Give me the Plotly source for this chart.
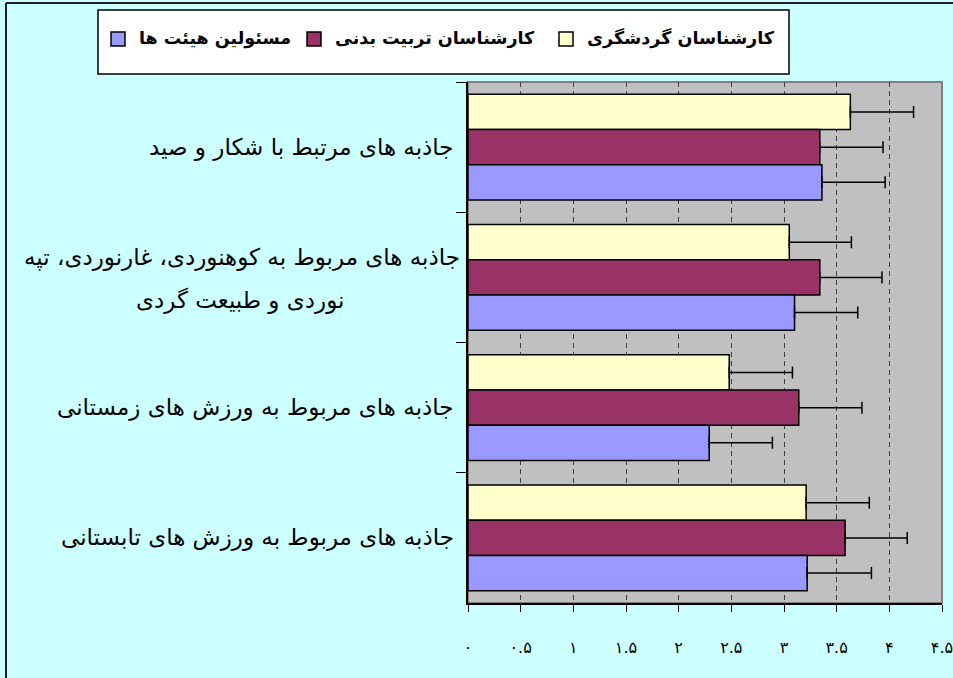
import plotly.graph_objects as go

# ---------------- data ----------------
categories = [
    "جاذبه های مرتبط با شکار و صید",
    "جاذبه های مربوط به کوهنوردی، غارنوردی، تپه<br>نوردی و طبیعت گردی",
    "جاذبه های مربوط به ورزش های زمستانی",
    "جاذبه های مربوط به ورزش های تابستانی",
]
tick_vals = [0, 0.5, 1, 1.5, 2, 2.5, 3, 3.5, 4, 4.5]
tick_text = ["۰", "۰.۵", "۱", "۱.۵", "۲", "۲.۵", "۳", "۳.۵", "۴", "۴.۵"]

series_names = ["کارشناسان گردشگری", "کارشناسان تربیت بدنی", "مسئولین هیئت ها"]
series_colors = ["#FFFFCC", "#993366", "#9999FF"]

tourism_experts = [3.63, 3.05, 2.48, 3.21]
tourism_errors = [0.60, 0.59, 0.60, 0.60]
pe_experts = [3.34, 3.34, 3.14, 3.58]
pe_errors = [0.60, 0.59, 0.60, 0.59]
board_officials = [3.36, 3.10, 2.29, 3.22]
board_errors = [0.60, 0.60, 0.60, 0.61]

series_values = [tourism_experts, pe_experts, board_officials]
series_errors = [tourism_errors, pe_errors, board_errors]

# ---------------- layout geometry (pixels) ----------------
W, H = 953, 678
PL, PR, PT, PB = 468, 942, 82, 603
FONT = "DejaVu Sans"


def px_x(px):
    return (px - PL) / (PR - PL)


def px_y(py):
    return (PB - py) / (PB - PT)


fig = go.Figure()
for name, color, vals, errs in zip(series_names, series_colors, series_values, series_errors):
    fig.add_trace(go.Bar(
        y=categories, x=vals, name=name, orientation="h",
        marker=dict(color=color, line=dict(color="black", width=1.5)),
        error_x=dict(type="data", symmetric=False, array=errs,
                     arrayminus=[0] * len(errs), color="black",
                     thickness=1.5, width=6),
        showlegend=False,
    ))

shapes = []
annotations = []

# outer chart frame (extends beyond the window on right/bottom)
shapes.append(dict(type="line", xref="paper", yref="paper",
                   x0=px_x(6), x1=px_x(W + 20), y0=px_y(3), y1=px_y(3),
                   line=dict(color="#222222", width=2)))
shapes.append(dict(type="line", xref="paper", yref="paper",
                   x0=px_x(6), x1=px_x(6), y0=px_y(3), y1=px_y(H + 20),
                   line=dict(color="#222222", width=2)))

# plot-area border
shapes.append(dict(type="rect", xref="paper", yref="paper", layer="below",
                   x0=0, x1=1, y0=0, y1=1,
                   line=dict(color="#808080", width=2)))

# legend box (manual, right-to-left ordering)
shapes.append(dict(type="rect", xref="paper", yref="paper",
                   x0=px_x(98), x1=px_x(789), y0=px_y(74), y1=px_y(10),
                   fillcolor="white", line=dict(color="black", width=1.5)))
legend_box_left = [111, 307, 559]
legend_order = [2, 1, 0]  # visual left-to-right: blue, maroon, yellow
for bx, idx in zip(legend_box_left, legend_order):
    shapes.append(dict(type="rect", xref="paper", yref="paper",
                       x0=px_x(bx), x1=px_x(bx + 14), y0=px_y(46), y1=px_y(32),
                       fillcolor=series_colors[idx],
                       line=dict(color="black", width=1.5)))
    annotations.append(dict(xref="paper", yref="paper",
                            x=px_x(bx + 26), y=px_y(38),
                            xanchor="left", yanchor="middle",
                            text=series_names[idx], showarrow=False,
                            font=dict(family=FONT, size=17.5, color="black",
                                      weight="bold")))

# category labels
LBL = 23
for cat in categories:
    lines = cat.split("<br>")
    if len(lines) == 1:
        annotations.append(dict(xref="paper", yref="y", x=px_x(456), y=cat,
                                xanchor="right", yanchor="middle",
                                text=cat, showarrow=False,
                                font=dict(family=FONT, size=LBL, color="black")))
    else:
        annotations.append(dict(xref="paper", yref="y", x=px_x(462), y=cat,
                                xanchor="right", yanchor="middle", yshift=20,
                                text=lines[0], showarrow=False,
                                font=dict(family=FONT, size=LBL, color="black")))
        annotations.append(dict(xref="paper", yref="y", x=px_x(240), y=cat,
                                xanchor="center", yanchor="middle", yshift=-23,
                                text=lines[1], showarrow=False,
                                font=dict(family=FONT, size=LBL, color="black")))

fig.update_layout(
    width=W, height=H,
    margin=dict(l=PL, r=W - PR, t=PT, b=H - PB, pad=0, autoexpand=False),
    paper_bgcolor="#CCFFFF",
    plot_bgcolor="#C0C0C0",
    barmode="group",
    bargap=0.19,
    bargroupgap=0,
    showlegend=False,
    shapes=shapes,
    annotations=annotations,
    font=dict(family=FONT, color="black"),
    xaxis=dict(
        range=[0, 4.5], tickvals=tick_vals, ticktext=tick_text,
        showgrid=True, gridcolor="#404040", gridwidth=1, griddash="5px,4px",
        zeroline=False, showline=True, linecolor="black", linewidth=1.5,
        ticks="outside", ticklen=7, tickcolor="black", tickwidth=1,
        ticklabelstandoff=22, ticklabeloverflow="allow", automargin=False,
        tickfont=dict(family=FONT, size=16, color="black"),
        fixedrange=True,
    ),
    yaxis=dict(
        type="category", categoryorder="array", categoryarray=categories,
        autorange="reversed", showticklabels=False, showgrid=False,
        zeroline=False, showline=True, linecolor="black", linewidth=1.5,
        ticks="outside", tickson="boundaries", ticklen=10, automargin=False,
        tickcolor="black", tickwidth=1, fixedrange=True,
    ),
)

fig.write_html(
    "out.html",
    config={"displayModeBar": False},
    post_script="document.body.style.margin='0px';document.body.style.overflow='hidden';",
)
